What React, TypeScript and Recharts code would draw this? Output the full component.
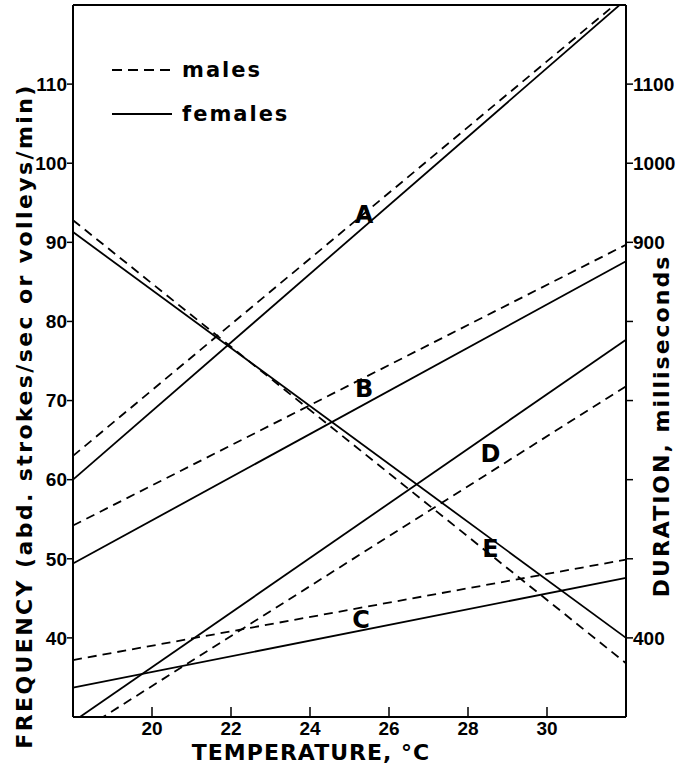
import { LineChart, Line, XAxis, YAxis, ReferenceLine, ReferenceDot } from 'recharts'

// temperature (°C) at the two ends of every fitted line
const temperatures = [18, 32]

// frequency lines (left axis), males dashed / females solid
const aMales = [63, 121.2]
const aFemales = [60, 120.7]
const bMales = [54.2, 89.7]
const bFemales = [49.4, 87.6]
const cMales = [37.2, 49.9]
const cFemales = [33.7, 47.6]
const dMales = [27.6, 71.8]
const dFemales = [29.4, 77.7]

// duration line (right axis, ms)
const eMales = [928, 368]
const eFemales = [913, 400]

const tempTicks = [20, 22, 24, 26, 28, 30]
const freqTicks = [40, 50, 60, 70, 80, 90, 100, 110]
const durTicks = [400, 500, 600, 700, 800, 900, 1000, 1100]
const durLabelled = [400, 900, 1000, 1100]

// curve letters, placed on the left (frequency) scale
const curveLetters = ['A', 'B', 'C', 'D', 'E']
const curveLetterTemps = [25.37, 25.37, 25.29, 28.57, 28.57]
const curveLetterFreqs = [93.5, 71.5, 42.3, 63.3, 51.3]

const data = temperatures.map((t, i) => ({
  temp: t,
  aM: aMales[i],
  aF: aFemales[i],
  bM: bMales[i],
  bF: bFemales[i],
  cM: cMales[i],
  cF: cFemales[i],
  dM: dMales[i],
  dF: dFemales[i],
  eM: eMales[i],
  eF: eFemales[i],
}))

const FONT = '"DejaVu Sans", sans-serif'
const DASH = '9 6'
const tickStyle = { fontSize: 19, fontWeight: 700, fill: '#000', fontFamily: '"Liberation Sans", Arial, sans-serif' }

const series = [
  { key: 'aM', axis: 'left', dashed: true },
  { key: 'aF', axis: 'left', dashed: false },
  { key: 'bM', axis: 'left', dashed: true },
  { key: 'bF', axis: 'left', dashed: false },
  { key: 'cM', axis: 'left', dashed: true },
  { key: 'cF', axis: 'left', dashed: false },
  { key: 'dM', axis: 'left', dashed: true },
  { key: 'dF', axis: 'left', dashed: false },
  { key: 'eM', axis: 'right', dashed: true },
  { key: 'eF', axis: 'right', dashed: false },
]

function LegendBox() {
  const row = { display: 'flex', alignItems: 'center', height: 44 }
  const txt = { fontFamily: FONT, fontWeight: 700, fontSize: 21, letterSpacing: 2, marginLeft: 10 }
  return (
    <div style={{ position: 'absolute', left: 112, top: 48 }}>
      <div style={row}>
        <svg width={60} height={4}>
          <line x1={0} y1={2} x2={60} y2={2} stroke="#000" strokeWidth={2} strokeDasharray="10 6" />
        </svg>
        <span style={txt}>males</span>
      </div>
      <div style={row}>
        <svg width={60} height={4}>
          <line x1={0} y1={2} x2={60} y2={2} stroke="#000" strokeWidth={2} />
        </svg>
        <span style={txt}>females</span>
      </div>
    </div>
  )
}

export default function App() {
  return (
    <div style={{ position: 'absolute', left: 0, top: 0, width: 682, height: 769, background: '#fff' }}>
      <LineChart width={682} height={769} data={data} margin={{ top: 5, right: 0, bottom: 0, left: 0 }}>
        <XAxis
          dataKey="temp"
          type="number"
          domain={[18, 32]}
          ticks={tempTicks}
          height={52}
          tickSize={-10}
          tickMargin={15}
          axisLine={{ stroke: '#000', strokeWidth: 2 }}
          tickLine={{ stroke: '#000', strokeWidth: 1.5 }}
          tick={tickStyle}
        />
        <YAxis
          yAxisId="left"
          domain={[30, 120]}
          allowDataOverflow
          ticks={freqTicks}
          width={73}
          tickSize={6}
          tickMargin={0}
          axisLine={{ stroke: '#000', strokeWidth: 2 }}
          tickLine={{ stroke: '#000', strokeWidth: 1.5 }}
          tick={tickStyle}
        />
        <YAxis
          yAxisId="right"
          orientation="right"
          domain={[300, 1200]}
          allowDataOverflow
          ticks={durTicks}
          tickFormatter={(v) => (durLabelled.includes(v) ? String(v) : '')}
          width={56}
          tickSize={7}
          tickMargin={0}
          axisLine={{ stroke: '#000', strokeWidth: 2 }}
          tickLine={{ stroke: '#000', strokeWidth: 1.5 }}
          tick={tickStyle}
        />
        <ReferenceLine yAxisId="left" y={120} stroke="#000" strokeWidth={2} />
        {series.map((s) => (
          <Line
            key={s.key}
            yAxisId={s.axis}
            dataKey={s.key}
            type="linear"
            stroke="#000"
            strokeWidth={1.8}
            strokeDasharray={s.dashed ? DASH : undefined}
            dot={false}
            activeDot={false}
            isAnimationActive={false}
          />
        ))}
        {curveLetters.map((c, i) => (
          <ReferenceDot
            key={c}
            yAxisId="left"
            x={curveLetterTemps[i]}
            y={curveLetterFreqs[i]}
            r={1}
            fill="none"
            stroke="none"
            label={{ value: c, position: 'center', fontSize: 24, fontWeight: 700, fill: '#000', fontFamily: FONT }}
          />
        ))}
        <text
          x={24}
          y={416}
          transform="rotate(-90, 24, 416)"
          textAnchor="middle"
          dominantBaseline="central"
          fontFamily={FONT}
          fontWeight={700}
          fontSize={22}
          letterSpacing={2.4}
        >
          FREQUENCY (abd. strokes/sec  or volleys/min)
        </text>
        <text
          x={661}
          y={426}
          transform="rotate(-90, 661, 426)"
          textAnchor="middle"
          dominantBaseline="central"
          fontFamily={FONT}
          fontWeight={700}
          fontSize={22}
          letterSpacing={2}
        >
          DURATION, milliseconds
        </text>
        <text x={311} y={760} textAnchor="middle" fontFamily={FONT} fontWeight={700} fontSize={22} letterSpacing={1}>
          TEMPERATURE, °C
        </text>
      </LineChart>
      <LegendBox />
    </div>
  )
}
